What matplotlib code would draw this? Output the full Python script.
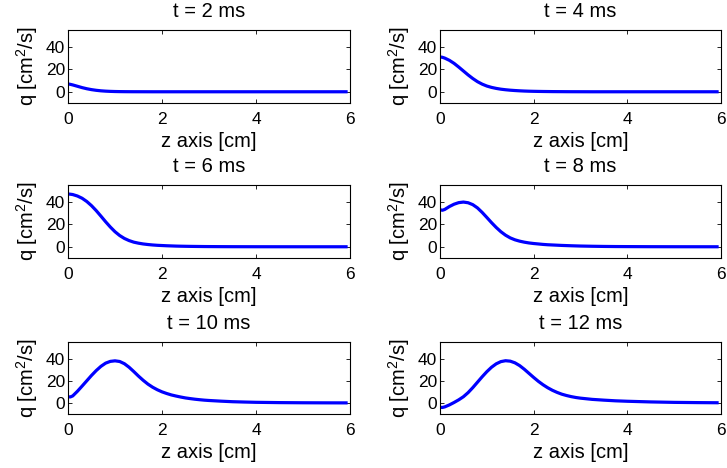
import matplotlib
matplotlib.use("Agg")
import matplotlib.pyplot as plt

plt.rcParams['font.family'] = ['Liberation Sans', 'DejaVu Sans']
plt.rcParams['mathtext.default'] = 'regular'

z = [0, 0.05, 0.1, 0.2, 0.3, 0.4, 0.5, 0.6, 0.7, 0.8, 0.9, 1.0, 1.1, 1.2, 1.3,
     1.4, 1.5, 1.6, 1.7, 1.8, 1.9, 2.0, 2.1, 2.2, 2.3, 2.4, 2.5, 2.6, 2.7, 2.8,
     2.9, 3.0, 3.25, 3.5, 3.75, 4.0, 4.5, 5.0, 5.5, 5.95]

q_t2 = [7, 6.6, 6.1, 4.9, 3.7, 2.7, 1.9, 1.3, 0.85, 0.55, 0.35, 0.22, 0.14, 0.09,
        0.06, 0.04, 0.03, 0.02, 0.01, 0, 0, 0, 0, 0, 0, 0, 0, 0, 0, 0,
        0, 0, 0, 0, 0, 0, 0, 0, 0, 0]
q_t4 = [31, 30.7, 30, 28, 25.3, 22, 18.5, 15, 11.8, 9, 6.8, 5.1, 3.9, 3, 2.3,
        1.8, 1.4, 1.1, 0.85, 0.65, 0.5, 0.4, 0.32, 0.25, 0.2, 0.15, 0.12, 0.1,
        0.07, 0.05, 0.04, 0.03, 0, 0, 0, 0, 0, 0, 0, 0]
q_t6 = [47, 46.8, 46.5, 45.2, 43.2, 40.3, 36.6, 32.2, 27.3, 22.3, 17.6, 13.4, 10,
        7.4, 5.5, 4.1, 3.2, 2.5, 2, 1.6, 1.3, 1.1, 0.9, 0.75, 0.6, 0.5, 0.42,
        0.35, 0.3, 0.25, 0.2, 0.17, 0.11, 0.07, 0.05, 0.03, 0.01, 0, 0, 0]
q_t8 = [33, 32.5, 33.2, 35.8, 37.9, 39.3, 39.8, 39.2, 37.5, 34.6, 30.6, 26.1,
        21.5, 17.2, 13.4, 10.3, 7.9, 6.2, 5, 4.1, 3.4, 2.9, 2.5, 2.1, 1.8, 1.6,
        1.4, 1.2, 1.05, 0.9, 0.77, 0.65, 0.45, 0.3, 0.2, 0.15, 0.07, 0.03, 0.01, 0]
q_t10 = [5.5, 5.4, 6.3, 10.5, 15.2, 20, 24.8, 29.2, 33, 35.9, 37.5, 38, 37.4,
         35.4, 32.2, 28.3, 24.2, 20.4, 17, 14.2, 11.9, 10, 8.5, 7.2, 6.2, 5.3,
         4.5, 3.9, 3.35, 2.9, 2.5, 2.2, 1.6, 1.1, 0.8, 0.55, 0.28, 0.14, 0.07, 0.03]
q_t12 = [-4, -4.1, -3.6, -1.8, 0.4, 2.8, 5.6, 9.3, 13.8, 18.7, 23.6, 28.2, 32.2,
         35.3, 37.3, 38.1, 37.7, 36.2, 33.7, 30.4, 26.7, 23, 19.5, 16.4, 13.7,
         11.4, 9.5, 7.9, 6.7, 5.7, 4.9, 4.3, 3.2, 2.5, 1.9, 1.5, 0.9, 0.5, 0.28, 0.15]

titles = ["t = 2 ms", "t = 4 ms", "t = 6 ms", "t = 8 ms", "t = 10 ms", "t = 12 ms"]
series = [q_t2, q_t4, q_t6, q_t8, q_t10, q_t12]
xticks = [0, 2, 4, 6]
yticks = [0, 20, 40]

W, H = 727, 468
fig = plt.figure(figsize=(W / 100, H / 100), dpi=100)

lefts = [68, 440]
widths = [282, 281]
tops = [30, 185, 342]
bottoms = [103, 258, 414]

FS_TICK = 12.5
FS_LAB = 14.5

for i, (title, q) in enumerate(zip(titles, series)):
    r, c = divmod(i, 2)
    rect = [lefts[c] / W, 1 - bottoms[r] / H, widths[c] / W, (bottoms[r] - tops[r]) / H]
    ax = fig.add_axes(rect)
    ax.plot(z, q, color=(0, 0, 1), lw=2.3, solid_capstyle='butt')
    ax.set_xlim(0, 6)
    ax.set_ylim(-10, 55)
    ax.set_xticks(xticks)
    ax.set_yticks(yticks)
    ax.tick_params(direction='in', top=True, right=True, length=3, width=0.6,
                   labelsize=FS_TICK)
    ax.tick_params(axis='x', pad=6.5)
    ax.tick_params(axis='y', pad=2)
    for s in ax.spines.values():
        s.set_linewidth(0.8)
    ax.set_title(title, fontsize=FS_LAB, pad=9.5)
    ax.set_xlabel("z axis [cm]", fontsize=FS_LAB, labelpad=3.5)
    ax.set_ylabel("q [cm$^{2}$/s]", fontsize=FS_LAB, labelpad=4)

fig.savefig("out.png", dpi=100)
